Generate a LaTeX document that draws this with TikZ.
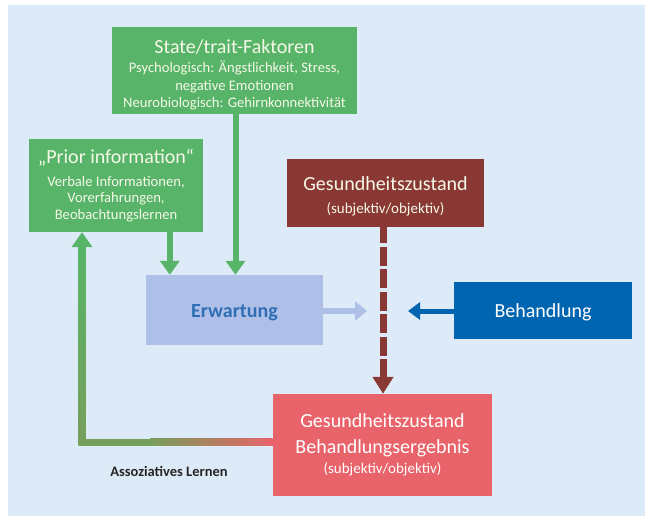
\documentclass[tikz,border=0pt]{standalone}
\usepackage{fontspec}
\setmainfont{Carlito}
\usetikzlibrary{arrows.meta}
\definecolor{bgc}{HTML}{DDEAF7}
\definecolor{grn}{HTML}{57B468}
\definecolor{olv}{HTML}{779F5C}
\definecolor{dred}{HTML}{8A3833}
\definecolor{ored}{HTML}{E8636A}
\definecolor{erw}{HTML}{AFC0E8}
\definecolor{erwtxt}{HTML}{2F6EB5}
\definecolor{beh}{HTML}{0065B0}
\definecolor{ltxt}{HTML}{F6F8E8}
\tikzset{
  box/.style={rectangle, inner sep=0pt, align=center, text=ltxt},
  gbox/.style={box, fill=grn},
  onebox/.style={box, text height=14pt, text depth=0pt, font=\fontsize{20}{20}\selectfont},
  garrow/.style={draw=grn, line width=6pt, -{Triangle[width=19pt,length=14pt]}},
}
\newcommand{\ttlsize}{\fontsize{20}{20}\selectfont}
\begin{document}
\begin{tikzpicture}[x=1pt,y=-1pt]
\useasboundingbox (0,0) rectangle (645,516);
\fill[bgc] (8,5) rectangle (645,516);

\node[gbox, minimum width=245pt, minimum height=87pt, font=\fontsize{14.6}{17.5}\selectfont] (state) at (234.5,70.5)
  {{\ttlsize\rule{0pt}{23pt}State/trait-Faktoren}\\[2pt]
   Psychologisch: Ängstlichkeit, Stress,\\
   negative Emotionen\\
   Neurobiologisch: Gehirnkonnektivität};

\node[gbox, minimum width=174pt, minimum height=93pt, font=\fontsize{14.6}{16.5}\selectfont] (prior) at (116,185.5)
  {{\ttlsize „Prior information“}\\[6pt]
   Verbale Informationen,\\
   Vorerfahrungen,\\
   Beobachtungslernen};

\node[box, fill=dred, minimum width=197pt, minimum height=68pt, font=\fontsize{15}{23}\selectfont] (gz) at (385.5,193)
  {{\ttlsize\rule{0pt}{20pt}Gesundheitszustand}\\
   (subjektiv/objektiv)};

\node[onebox, fill=erw, text=erwtxt, minimum width=177pt, minimum height=70pt,
  font=\fontsize{20}{20}\selectfont\bfseries] (erw) at (234.5,310) {Erwartung};

\node[onebox, fill=beh, text=white, minimum width=178pt, minimum height=57pt] (beh) at (543,310.5) {Behandlung};

\node[box, fill=ored, text=white, minimum width=219pt, minimum height=102pt,
  font=\fontsize{20}{26}\selectfont] (out) at (382.5,445)
  {Gesundheitszustand\\
   Behandlungsergebnis\\[-6pt]
   {\fontsize{15}{15}\selectfont (subjektiv/objektiv)}};

\node[font=\fontsize{14.5}{15}\selectfont\bfseries, text=black!85] (assoc) at (169,471.5) {Assoziatives Lernen};

\coordinate (erwend) at (367,311);
\coordinate (behend) at (408,311);
\coordinate (dx) at (383,0);
\coordinate (fb) at (82,442);

% green arrows into Erwartung
\draw[garrow] (prior.south -| erw.north west) ++(24,0) coordinate (p1) -- (p1 |- erw.north);
\draw[garrow] (state.south) ++(1,0) coordinate (s1) -- (s1 |- erw.north);

% light arrow
\draw[draw=erw, line width=6pt, -{Triangle[width=19pt,length=12pt]}] (erw.east |- erwend) -- (erwend);
% blue arrow
\draw[draw=beh, line width=5pt, -{Triangle[width=17pt,length=12pt]}] (beh.west |- behend) -- (behend);

% dashed dark red
\draw[draw=dred, line width=7pt, dash pattern=on 19pt off 3.5pt, dash phase=3pt,
  -{Triangle[width=20pt,length=17pt]}] (gz.south -| dx) -- (dx |- out.north);

% feedback loop
\draw[draw=grn, line width=7pt, -{Triangle[width=20pt,length=15pt]}]
  (out.west |- fb) -- (fb) -- (fb |- prior.south);
\shade[top color=grn, bottom color=olv] (78.5,246) rectangle (85.5,445.5);
\fill[olv] (85.5,438.5) rectangle (150,445.5);
\shade[left color=olv, right color=ored] (150,438.5) rectangle (272.5,445.5);
\end{tikzpicture}
\end{document}
